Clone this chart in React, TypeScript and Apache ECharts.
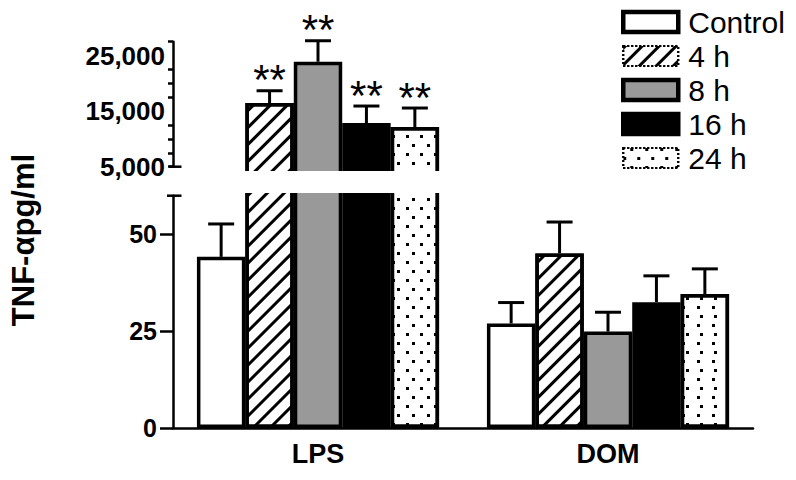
import React, { useEffect, useRef } from 'react';
import * as echarts from 'echarts';

// ---------- data ----------
const categories = ['LPS', 'DOM'];
const times = ['Control', '4 h', '8 h', '16 h', '24 h'];
const meanLPS = [44.2, 16460, 23890, 12860, 12140];
const semLPS = [8.5, 2210, 3780, 3060, 3420];
const meanDOM = [27.0, 45.1, 24.9, 32.5, 34.6];
const semDOM = [5.4, 8.1, 5.0, 6.8, 6.5];
const signifLPS = ['', '**', '**', '**', '**'];
const signifDOM = ['', '', '', '', ''];
const upperTicks = [5000, 7500, 10000, 12500, 17500, 20000, 22500, 27500];
const upperLabels = [5000, 15000, 25000];
const lowerTicks = [0, 25, 50];

// ---------- layout ----------
const FONT = '"Liberation Sans", Arial, Helvetica, sans-serif';
const W = 796;
const H = 480;
const LEFT = 173;
const RIGHT = 43;
const U_TOP = 41.7; // px of U_MAX
const U_BOT = 166.7; // px of U_MIN
const U_MIN = 5000;
const U_MAX = 27500;
const U_BAR_BOT = 176;
const L_TOP = 195.7; // px of L_MAX
const L_BOT = 428; // px of 0
const L_MAX = 60;
const L_BAR_TOP = 185;
const GAP_TOP = 171;
const GAP_BOT = 193;
const CAT_GAP = 0.165;
const CAP = 26;
const N = times.length;

const uPerPx = (U_MAX - U_MIN) / (U_BOT - U_TOP);
const U_BAR_MIN = U_MIN - (U_BAR_BOT - U_BOT) * uPerPx;
const lPerPx = L_MAX / (L_BOT - L_TOP);
const L_BAR_MAX = L_MAX + (L_TOP - L_BAR_TOP) * lPerPx;

const means = times.map((_, t) => [meanLPS[t], meanDOM[t]]);
const sems = times.map((_, t) => [semLPS[t], semDOM[t]]);
const stars = times.map((_, t) => [signifLPS[t], signifDOM[t]]);

const hatchDecal = {
  symbol: 'rect',
  symbolSize: 1,
  color: '#000',
  dashArrayX: [1, 0],
  dashArrayY: [2.4, 9],
  rotation: -Math.PI / 4,
};
const dotDecal = {
  symbol: 'rect',
  symbolSize: 1,
  color: '#000',
  dashArrayX: [
    [2.4, 10.6],
    [0, 6.5, 2.4, 4.1],
  ],
  dashArrayY: [2.4, 5.6],
  rotation: 0,
};

const BW = 3.5;
const barStyles: any[] = [
  { color: '#ffffff', borderColor: '#000', borderWidth: BW },
  { color: '#ffffff', borderColor: '#000', borderWidth: BW, decal: hatchDecal },
  { color: '#999999', borderColor: '#000', borderWidth: BW },
  { color: '#000000', borderColor: '#000', borderWidth: BW },
  { color: '#ffffff', borderColor: '#000', borderWidth: BW, decal: dotDecal },
];

function buildOption() {
  const grids = [
    { left: LEFT, right: RIGHT, top: U_TOP, bottom: H - U_BAR_BOT }, // 0 upper bars
    { left: LEFT, right: RIGHT, top: U_TOP, bottom: H - U_BOT }, // 1 upper axis
    { left: LEFT, right: RIGHT, top: L_BAR_TOP, bottom: H - L_BOT }, // 2 lower bars
    { left: LEFT, right: RIGHT, top: L_TOP, bottom: H - L_BOT }, // 3 lower axis
  ];
  const hiddenX = (gi: number) => ({ type: 'category', gridIndex: gi, data: categories, show: false });
  const xAxis = [
    hiddenX(0),
    hiddenX(1),
    {
      type: 'category',
      gridIndex: 2,
      data: categories,
      axisLine: { show: true, lineStyle: { color: '#000', width: 2.5 } },
      axisTick: { show: false },
      axisLabel: { color: '#000', fontFamily: FONT, fontWeight: 'bold', fontSize: 27, margin: 12 },
    },
    hiddenX(3),
  ];
  const yAxis = [
    { type: 'value', gridIndex: 0, min: U_BAR_MIN, max: U_MAX, show: false },
    {
      type: 'value',
      gridIndex: 1,
      min: U_MIN,
      max: U_MAX,
      splitLine: { show: false },
      axisLine: { show: true, lineStyle: { color: '#000', width: 2.5 } },
      axisTick: { show: true, length: 5, customValues: upperTicks, lineStyle: { color: '#000', width: 2.5 } },
      axisLabel: {
        customValues: upperLabels,
        color: '#000',
        fontFamily: FONT,
        fontWeight: 'bold',
        fontSize: 26,
        margin: 8,
        formatter: (v: number) => v.toLocaleString('en-US'),
      },
    },
    { type: 'value', gridIndex: 2, min: 0, max: L_BAR_MAX, show: false },
    {
      type: 'value',
      gridIndex: 3,
      min: 0,
      max: L_MAX,
      splitLine: { show: false },
      axisLine: { show: true, lineStyle: { color: '#000', width: 2.5 } },
      axisTick: { show: true, length: 13, customValues: lowerTicks, lineStyle: { color: '#000', width: 2.5 } },
      axisLabel: {
        customValues: lowerTicks,
        color: '#000',
        fontFamily: FONT,
        fontWeight: 'bold',
        fontSize: 25,
        margin: 16,
      },
    },
  ];

  const series: any[] = [];
  times.forEach((name, t) => {
    [0, 2].forEach((ai) => {
      series.push({
        type: 'bar',
        name,
        xAxisIndex: ai,
        yAxisIndex: ai,
        data: means[t],
        barGap: '0%',
        barCategoryGap: CAT_GAP * 100 + '%',
        itemStyle: barStyles[t],
        silent: true,
        z: 2,
      });
    });
  });

  times.forEach((name, t) => {
    [0, 2].forEach((ai) => {
      const data = categories
        .map((_, i) => [i, means[t][i], means[t][i] + sems[t][i]])
        .filter((d) => (ai === 0 ? d[1] > L_MAX : d[1] <= L_MAX));
      series.push({
        type: 'custom',
        name: name + ' err',
        xAxisIndex: ai,
        yAxisIndex: ai,
        data,
        silent: true,
        z: 3,
        renderItem: (params: any, api: any) => {
          const ci = api.value(0);
          const p0 = api.coord([ci, api.value(1)]);
          const p1 = api.coord([ci, api.value(2)]);
          const band = api.size([1, 0])[0];
          const bw = (band * (1 - CAT_GAP)) / N;
          const x = p0[0] + (t - (N - 1) / 2) * bw;
          const children: any[] = [
            { type: 'line', shape: { x1: x, y1: p0[1], x2: x, y2: p1[1] }, style: { stroke: '#000', lineWidth: 3 } },
            {
              type: 'line',
              shape: { x1: x - CAP / 2, y1: p1[1], x2: x + CAP / 2, y2: p1[1] },
              style: { stroke: '#000', lineWidth: 3 },
            },
          ];
          const s = stars[t][ci];
          if (s) {
            children.push({
              type: 'text',
              x,
              y: p1[1] + 10,
              style: {
                text: s,
                fill: '#000',
                font: '42px ' + FONT,
                textAlign: 'center',
                textVerticalAlign: 'bottom',
              },
            });
          }
          return { type: 'group', children };
        },
      });
    });
  });

  const legendData = times.map((name, t) => {
    if (t === 1 || t === 4) return { name, itemStyle: { borderType: 'dotted', borderWidth: 2 } };
    return { name, itemStyle: { borderWidth: 4.5 } };
  });

  return {
    animation: false,
    backgroundColor: '#fff',
    grid: grids,
    xAxis,
    yAxis,
    series,
    legend: {
      orient: 'vertical',
      left: 621,
      top: 7,
      padding: 0,
      itemWidth: 55,
      itemHeight: 20,
      itemGap: 4,
      icon: 'rect',
      selectedMode: false,
      data: legendData,
      textStyle: { fontFamily: FONT, fontSize: 30, color: '#000', lineHeight: 30, padding: [0, 0, 0, 5] },
    },
    graphic: [
      {
        type: 'rect',
        z: 100,
        silent: true,
        shape: { x: LEFT + 7, y: GAP_TOP, width: W - RIGHT - LEFT, height: GAP_BOT - GAP_TOP },
        style: { fill: '#fff' },
      },
      {
        type: 'line',
        z: 101,
        silent: true,
        shape: { x1: LEFT - 4, y1: U_BOT, x2: LEFT + 8.5, y2: U_BOT },
        style: { stroke: '#000', lineWidth: 2.5 },
      },
      {
        type: 'line',
        z: 101,
        silent: true,
        shape: { x1: LEFT - 6, y1: L_TOP, x2: LEFT + 8.5, y2: L_TOP },
        style: { stroke: '#000', lineWidth: 2.5 },
      },
      {
        type: 'text',
        z: 101,
        silent: true,
        x: 23,
        y: 240,
        rotation: Math.PI / 2,
        style: {
          text: 'TNF-αpg/ml',
          fill: '#000',
          font: 'bold 31px ' + FONT,
          textAlign: 'center',
          textVerticalAlign: 'middle',
        },
      },
    ],
  };
}

export default function App() {
  const ref = useRef<HTMLDivElement>(null);
  useEffect(() => {
    const chart = echarts.init(ref.current as HTMLDivElement, null, { renderer: 'svg' });
    chart.setOption(buildOption() as any);
    return () => chart.dispose();
  }, []);
  return <div ref={ref} style={{ position: 'absolute', left: 0, top: 0, width: W, height: H }} />;
}
